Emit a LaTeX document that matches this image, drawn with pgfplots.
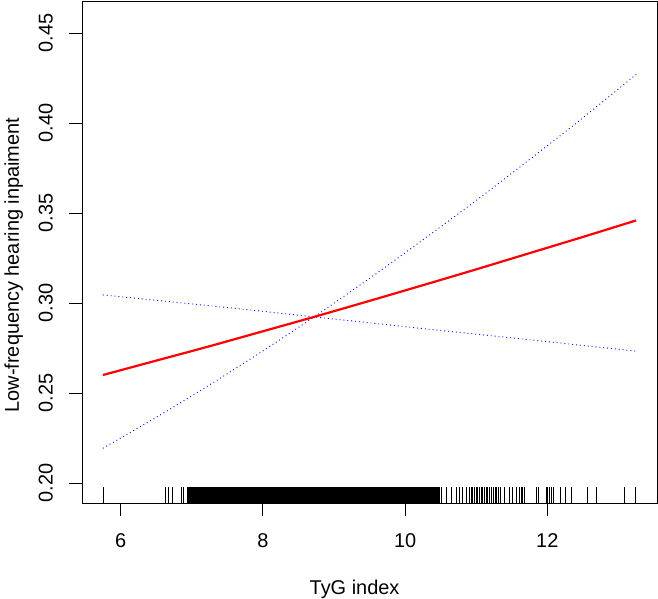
\documentclass[border=0pt]{standalone}
\usepackage{fontspec}
\setmainfont{Liberation Sans}
\usepackage{pgfplots}
\pgfplotsset{compat=1.18}
\definecolor{rred}{RGB}{255,0,0}
\definecolor{rblue}{RGB}{0,0,255}

\begin{document}
\begin{tikzpicture}
\begin{axis}[
  name=ax,
  scale only axis,
  width=575bp, height=502bp,
  xmin=5.456, xmax=13.543,
  ymin=0.1889, ymax=0.4678,
  xtick={6,8,10,12},
  ytick={0.20,0.25,0.30,0.35,0.40,0.45},
  tick pos=left,
  tick align=outside,
  major tick length=12.5bp,
  every tick/.style={black, line width=0.8bp},
  axis line style={line width=0.8bp},
  font=\fontsize{20}{24}\selectfont,
  /pgf/number format/assume math mode=true,
  xticklabel style={anchor=north, inner sep=0pt, yshift=-17.5bp},
  yticklabel style={xshift=-16.5bp, rotate=90, anchor=south, inner sep=0pt,
    /pgf/number format/fixed, /pgf/number format/fixed zerofill,
    /pgf/number format/precision=2},
  xlabel={TyG index},
  ylabel={Low-frequency hearing inpaiment},
  every axis x label/.style={at={(axis description cs:0.474,-0.1813)}, anchor=base},
  every axis y label/.style={at={(axis description cs:-0.1096,0.474)}, rotate=90, anchor=base},
]

% rug of observed TyG values
\addplot[fill=black, draw=none] coordinates {(6.927,0.17) (6.927,0.1978) (10.49,0.1978) (10.49,0.17)} -- cycle;
\addplot[ycomb, no marks, black, line width=0.8bp] coordinates {
  (5.75,0.1978) (6.622,0.1978) (6.678,0.1978) (6.73,0.1978) (6.857,0.1978) (6.88,0.1978)
  (10.508,0.1978) (10.579,0.1978) (10.649,0.1978) (10.719,0.1978) (10.766,0.1978)
  (10.812,0.1978) (10.860,0.1978) (10.906,0.1978) (10.93,0.1978) (10.952,0.1978)
  (10.975,0.1978) (11.0,0.1978) (11.023,0.1978) (11.046,0.1978) (11.07,0.1978)
  (11.093,0.1978) (11.117,0.1978) (11.14,0.1978) (11.163,0.1978) (11.187,0.1978)
  (11.21,0.1978) (11.243,0.1978) (11.265,0.1978) (11.289,0.1978) (11.313,0.1978)
  (11.337,0.1978) (11.397,0.1978) (11.468,0.1978) (11.514,0.1978) (11.562,0.1978)
  (11.608,0.1978) (11.632,0.1978) (11.654,0.1978) (11.678,0.1978) (11.843,0.1978)
  (11.875,0.1978) (11.983,0.1978) (12.006,0.1978) (12.029,0.1978) (12.062,0.1978)
  (12.090,0.1978) (12.184,0.1978) (12.254,0.1978) (12.343,0.1978) (12.567,0.1978)
  (12.694,0.1978) (13.083,0.1978) (13.237,0.1978)
};

% confidence limits
\addplot[rblue, line width=0.9bp, dash pattern=on 0.9bp off 3bp, smooth] coordinates {
  (5.75,0.2193) (6.5,0.2365) (7.25,0.2545) (8,0.2734) (8.72,0.2923) (9.5,0.3137)
  (10.25,0.3351) (11,0.3570) (11.75,0.3797) (12.5,0.4029) (13.25,0.4270)};
\addplot[rblue, line width=0.9bp, dash pattern=on 0.9bp off 3bp, smooth] coordinates {
  (5.75,0.3045) (6.5,0.3015) (7.25,0.2985) (8,0.2954) (8.72,0.2923) (9.5,0.2890)
  (10.25,0.2858) (11,0.2827) (11.75,0.2796) (12.5,0.2764) (13.25,0.2733)};

% fitted curve
\addplot[rred, line width=2.2bp, smooth] coordinates {
  (5.75,0.2600) (6.5,0.2680) (7.25,0.2760) (8,0.2843) (8.72,0.2923) (9.5,0.3012)
  (10.25,0.3099) (11,0.3187) (11.75,0.3277) (12.5,0.3367) (13.25,0.3459)};
\end{axis}
\pgfresetboundingbox
\path[use as bounding box] ([shift={(-82bp,-96bp)}]ax.south west) rectangle ([shift={(1bp,1bp)}]ax.north east);
\end{tikzpicture}
\end{document}
